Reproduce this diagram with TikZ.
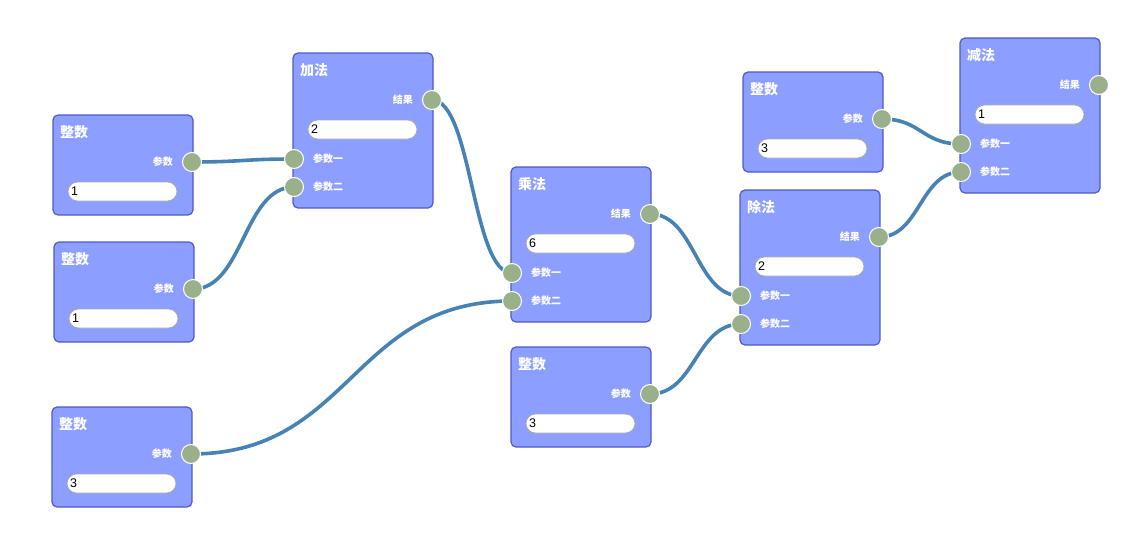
\documentclass[tikz,border=0pt]{standalone}
\usetikzlibrary{calc}
\usepackage{fontspec}
\setmainfont{Liberation Sans}
\newfontfamily\cjk{Noto Sans CJK SC}
\definecolor{boxfill}{RGB}{140,158,255}
\definecolor{boxline}{RGB}{80,90,200}
\definecolor{portfill}{RGB}{154,176,138}
\definecolor{wire}{RGB}{70,130,180}
\definecolor{fieldline}{RGB}{170,170,170}
\pgfdeclarelayer{wires}
\pgfsetlayers{wires,main}
\tikzset{
  block/.style={draw=boxline, fill=boxfill, line width=1.2pt, rounded corners=5pt},
  title/.style={anchor=west, text=white, font=\cjk\bfseries\fontsize{14}{14}\selectfont, inner sep=0pt},
  plabel/.style={text=white, font=\cjk\bfseries\fontsize{10}{10}\selectfont, inner sep=0pt},
  field/.style={draw=fieldline, fill=white, line width=0.8pt, rounded corners=9.5pt},
  fval/.style={anchor=west, text=black, font=\fontsize{12.5}{12.5}\selectfont, inner sep=0pt},
  port/.style={circle, draw=white, fill=portfill, line width=1pt, minimum size=19pt, inner sep=0pt},
  conn/.style={draw=wire, line width=3.6pt, line cap=round},
}
\begin{document}
\begin{tikzpicture}[x=1pt,y=-1pt]
\useasboundingbox (0,0) rectangle (1148,557);
% integer block: #1 name, #2 x, #3 y, #4 value
\newcommand{\intblock}[4]{%
  \draw[block] (#2,#3) rectangle ++(140,100);
  \node[title] at (#2+7,#3+17) {整数};
  \node[plabel, anchor=east] at (#2+120,#3+47) {参数};
  \draw[field] (#2+15,#3+67) rectangle ++(109,19);
  \node[fval] at (#2+18,#3+76.5) {#4};
  \node[port] (#1o) at (#2+139,#3+47) {};
}
% op block: #1 name, #2 x, #3 y, #4 title, #5 value
\newcommand{\opblock}[5]{%
  \draw[block] (#2,#3) rectangle ++(140,155);
  \node[title] at (#2+7,#3+17) {#4};
  \node[plabel, anchor=east] at (#2+120,#3+47) {结果};
  \draw[field] (#2+15,#3+67) rectangle ++(109,19);
  \node[fval] at (#2+18,#3+76.5) {#5};
  \node[plabel, anchor=west] at (#2+20,#3+106) {参数一};
  \node[plabel, anchor=west] at (#2+20,#3+134) {参数二};
  \node[port] (#1o) at (#2+139,#3+47) {};
  \node[port] (#1a) at (#2+1,#3+106) {};
  \node[port] (#1b) at (#2+1,#3+134) {};
}
\intblock{A}{53}{115}{1}
\intblock{B}{54}{242}{1}
\intblock{C}{52}{407}{3}
\intblock{D}{511}{347}{3}
\intblock{E}{743}{72}{3}
\opblock{add}{293}{53}{加法}{2}
\opblock{mul}{511}{167}{乘法}{6}
\opblock{div}{740}{190}{除法}{2}
\opblock{sub}{960}{38}{减法}{1}
% wires
\newcommand{\wire}[2]{%
  \draw[conn] let \p1=(#1.center), \p2=(#2.center), \n1={(\x2-\x1)/2} in
    (\p1) .. controls ($(\p1)+(\n1,0)$) and ($(\p2)-(\n1,0)$) .. (\p2);
}
\begin{pgfonlayer}{wires}
\wire{Ao}{adda}
\wire{Bo}{addb}
\wire{Co}{mulb}
\wire{addo}{mula}
\wire{mulo}{diva}
\wire{Do}{divb}
\wire{Eo}{suba}
\wire{divo}{subb}
\end{pgfonlayer}
\end{tikzpicture}
\end{document}
